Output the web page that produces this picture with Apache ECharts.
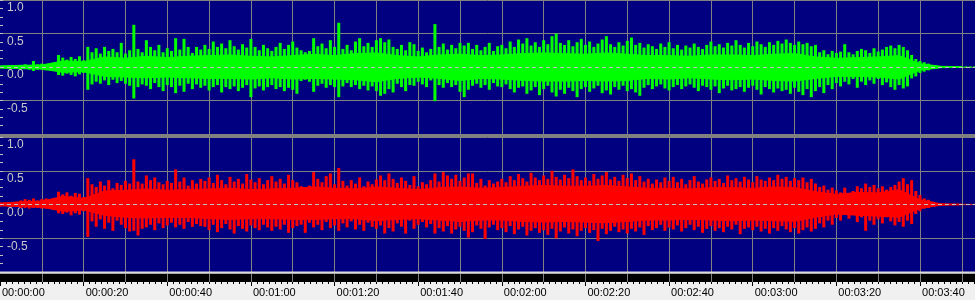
<!DOCTYPE html>
<html><head><meta charset="utf-8">
<script src="https://cdn.jsdelivr.net/npm/echarts@6/dist/echarts.min.js"></script>
<style>html,body{margin:0;padding:0;background:#f0f0f0}#c{width:975px;height:300px}</style>
</head><body><div id="c"></div>
<script>
// Peak envelope of the waveform, one value per second (t = 0 .. 233 s)
const L_MAX = [
 0.02,0.02,0.02,0.03,0.02,0.03,0.04,0.03,0.09,0.04,
 0.05,0.04,0.05,0.06,0.18,0.14,0.11,0.15,0.12,0.16,
 0.10,0.30,0.22,0.28,0.20,0.30,0.24,0.27,0.22,0.36,
 0.20,0.25,0.63,0.27,0.22,0.40,0.30,0.25,0.33,0.22,
 0.28,0.24,0.43,0.26,0.42,0.30,0.21,0.30,0.26,0.33,
 0.27,0.38,0.30,0.35,0.28,0.40,0.31,0.26,0.34,0.29,
 0.42,0.30,0.25,0.33,0.28,0.24,0.30,0.36,0.27,0.33,
 0.38,0.29,0.25,0.22,0.24,0.43,0.31,0.35,0.28,0.40,
 0.30,0.66,0.27,0.33,0.25,0.38,0.43,0.31,0.36,0.30,
 0.40,0.43,0.37,0.41,0.30,0.27,0.33,0.25,0.37,0.34,
 0.24,0.29,0.22,0.27,0.64,0.30,0.35,0.26,0.33,0.28,
 0.36,0.32,0.36,0.27,0.33,0.25,0.30,0.36,0.24,0.31,
 0.33,0.28,0.38,0.30,0.41,0.35,0.43,0.32,0.37,0.30,
 0.40,0.34,0.46,0.50,0.36,0.33,0.40,0.31,0.37,0.42,
 0.33,0.38,0.30,0.35,0.41,0.46,0.34,0.30,0.37,0.32,
 0.39,0.44,0.33,0.36,0.29,0.34,0.31,0.27,0.35,0.30,
 0.37,0.28,0.33,0.26,0.32,0.29,0.35,0.30,0.27,0.33,
 0.38,0.31,0.34,0.29,0.36,0.32,0.40,0.33,0.29,0.36,
 0.31,0.38,0.34,0.30,0.37,0.33,0.39,0.35,0.41,0.36,
 0.33,0.38,0.34,0.36,0.31,0.33,0.22,0.25,0.19,0.24,
 0.21,0.23,0.34,0.22,0.19,0.24,0.27,0.25,0.21,0.28,
 0.23,0.26,0.30,0.32,0.28,0.33,0.30,0.25,0.18,0.12,
 0.09,0.07,0.05,0.03,0.02,0.015,0.01,0.01,0.01,0.01,
 0.01,0.01,0.01,0.01
];
const L_MIN = [
 -0.02,-0.02,-0.02,-0.02,-0.03,-0.03,-0.03,-0.04,-0.06,-0.04,
 -0.04,-0.05,-0.04,-0.05,-0.12,-0.13,-0.10,-0.12,-0.14,-0.11,
 -0.09,-0.34,-0.26,-0.22,-0.25,-0.20,-0.27,-0.19,-0.24,-0.21,
 -0.25,-0.28,-0.47,-0.30,-0.26,-0.28,-0.33,-0.24,-0.30,-0.36,
 -0.27,-0.30,-0.39,-0.28,-0.37,-0.25,-0.33,-0.26,-0.31,-0.28,
 -0.35,-0.30,-0.27,-0.38,-0.30,-0.33,-0.29,-0.36,-0.31,-0.27,
 -0.45,-0.32,-0.29,-0.35,-0.30,-0.27,-0.33,-0.30,-0.36,-0.31,
 -0.34,-0.40,-0.21,-0.19,-0.22,-0.37,-0.28,-0.25,-0.31,-0.27,
 -0.30,-0.45,-0.29,-0.24,-0.30,-0.27,-0.33,-0.28,-0.35,-0.29,
 -0.36,-0.43,-0.40,-0.33,-0.38,-0.25,-0.30,-0.36,-0.27,-0.28,
 -0.22,-0.26,-0.30,-0.20,-0.51,-0.27,-0.31,-0.24,-0.30,-0.27,
 -0.37,-0.45,-0.34,-0.28,-0.25,-0.31,-0.27,-0.34,-0.24,-0.29,
 -0.30,-0.26,-0.33,-0.38,-0.31,-0.29,-0.40,-0.35,-0.30,-0.42,
 -0.33,-0.28,-0.38,-0.44,-0.34,-0.40,-0.31,-0.36,-0.45,-0.33,
 -0.30,-0.37,-0.32,-0.28,-0.39,-0.35,-0.41,-0.30,-0.34,-0.28,
 -0.36,-0.33,-0.38,-0.43,-0.31,-0.27,-0.33,-0.29,-0.26,-0.32,
 -0.35,-0.30,-0.27,-0.33,-0.29,-0.26,-0.31,-0.36,-0.28,-0.30,
 -0.34,-0.29,-0.39,-0.32,-0.28,-0.35,-0.33,-0.30,-0.37,-0.31,
 -0.28,-0.34,-0.41,-0.30,-0.33,-0.38,-0.32,-0.36,-0.34,-0.40,
 -0.31,-0.37,-0.42,-0.33,-0.45,-0.36,-0.30,-0.39,-0.27,-0.33,
 -0.24,-0.29,-0.22,-0.26,-0.18,-0.31,-0.22,-0.27,-0.20,-0.25,
 -0.18,-0.27,-0.23,-0.30,-0.34,-0.27,-0.32,-0.29,-0.17,-0.14,
 -0.09,-0.07,-0.05,-0.03,-0.02,-0.015,-0.01,-0.01,-0.01,-0.01,
 -0.01,-0.01,-0.01,-0.01
];
const R_MAX = [
 0.03,0.03,0.02,0.03,0.04,0.06,0.08,0.07,0.09,0.06,
 0.08,0.09,0.07,0.09,0.19,0.15,0.18,0.13,0.17,0.16,
 0.11,0.39,0.30,0.26,0.34,0.28,0.36,0.24,0.32,0.29,
 0.35,0.31,0.67,0.34,0.31,0.43,0.36,0.40,0.33,0.30,
 0.35,0.32,0.52,0.34,0.40,0.28,0.36,0.31,0.38,0.35,
 0.40,0.32,0.44,0.36,0.30,0.41,0.34,0.38,0.31,0.45,
 0.37,0.33,0.39,0.30,0.36,0.42,0.34,0.38,0.31,0.44,
 0.36,0.33,0.27,0.25,0.28,0.48,0.38,0.33,0.42,0.46,
 0.30,0.54,0.35,0.28,0.36,0.31,0.40,0.27,0.34,0.30,
 0.37,0.43,0.36,0.46,0.38,0.32,0.40,0.35,0.29,0.42,
 0.27,0.33,0.30,0.36,0.46,0.34,0.48,0.43,0.38,0.44,
 0.35,0.40,0.46,0.46,0.32,0.38,0.28,0.36,0.31,0.34,
 0.38,0.33,0.42,0.36,0.45,0.39,0.34,0.47,0.40,0.36,
 0.43,0.38,0.50,0.41,0.37,0.44,0.39,0.52,0.42,0.36,
 0.40,0.35,0.45,0.38,0.43,0.48,0.37,0.41,0.35,0.44,
 0.39,0.46,0.36,0.42,0.34,0.38,0.31,0.37,0.33,0.40,
 0.35,0.41,0.33,0.38,0.30,0.36,0.42,0.34,0.31,0.37,
 0.40,0.35,0.38,0.32,0.43,0.36,0.39,0.34,0.41,0.37,
 0.33,0.42,0.37,0.35,0.40,0.36,0.44,0.38,0.41,0.35,
 0.39,0.36,0.40,0.33,0.38,0.31,0.26,0.28,0.22,0.25,
 0.21,0.18,0.25,0.14,0.20,0.27,0.24,0.31,0.26,0.29,
 0.24,0.27,0.22,0.26,0.29,0.34,0.39,0.30,0.36,0.20,
 0.14,0.09,0.07,0.04,0.02,0.015,0.01,0.01,0.01,0.01,
 0.01,0.01,0.01,0.01
];
const R_MIN = [
 -0.03,-0.02,-0.03,-0.03,-0.03,-0.05,-0.05,-0.06,-0.05,-0.05,
 -0.06,-0.06,-0.05,-0.06,-0.13,-0.14,-0.12,-0.16,-0.13,-0.15,
 -0.10,-0.48,-0.25,-0.33,-0.22,-0.36,-0.27,-0.39,-0.24,-0.30,
 -0.35,-0.40,-0.39,-0.46,-0.36,-0.34,-0.30,-0.38,-0.28,-0.35,
 -0.31,-0.27,-0.34,-0.30,-0.36,-0.26,-0.33,-0.29,-0.32,-0.33,
 -0.38,-0.30,-0.41,-0.35,-0.29,-0.37,-0.43,-0.32,-0.36,-0.40,
 -0.31,-0.35,-0.38,-0.30,-0.34,-0.39,-0.33,-0.37,-0.30,-0.42,
 -0.35,-0.32,-0.30,-0.42,-0.27,-0.34,-0.30,-0.38,-0.26,-0.35,
 -0.31,-0.39,-0.28,-0.34,-0.25,-0.37,-0.30,-0.39,-0.27,-0.33,
 -0.36,-0.31,-0.43,-0.35,-0.40,-0.28,-0.33,-0.43,-0.24,-0.36,
 -0.30,-0.26,-0.34,-0.29,-0.43,-0.35,-0.40,-0.32,-0.43,-0.37,
 -0.33,-0.39,-0.49,-0.41,-0.31,-0.36,-0.51,-0.34,-0.30,-0.38,
 -0.35,-0.41,-0.32,-0.44,-0.37,-0.33,-0.46,-0.39,-0.35,-0.42,
 -0.38,-0.45,-0.36,-0.50,-0.40,-0.34,-0.43,-0.37,-0.47,-0.39,
 -0.35,-0.42,-0.38,-0.54,-0.36,-0.44,-0.39,-0.33,-0.41,-0.37,
 -0.43,-0.36,-0.40,-0.34,-0.45,-0.32,-0.38,-0.35,-0.30,-0.39,
 -0.34,-0.37,-0.31,-0.40,-0.35,-0.30,-0.38,-0.33,-0.42,-0.36,
 -0.32,-0.39,-0.35,-0.41,-0.33,-0.37,-0.30,-0.44,-0.36,-0.34,
 -0.38,-0.33,-0.40,-0.36,-0.43,-0.35,-0.39,-0.32,-0.37,-0.41,
 -0.35,-0.43,-0.38,-0.34,-0.40,-0.36,-0.28,-0.34,-0.24,-0.30,
 -0.20,-0.24,-0.15,-0.21,-0.13,-0.26,-0.19,-0.39,-0.24,-0.30,
 -0.22,-0.28,-0.19,-0.25,-0.31,-0.26,-0.33,-0.24,-0.29,-0.14,
 -0.10,-0.06,-0.05,-0.03,-0.02,-0.015,-0.01,-0.01,-0.01,-0.01,
 -0.01,-0.01,-0.01,-0.01
];
// Dense "body" of the waveform, one value every 5 s (t = 0 .. 230 s)
const BODY_STEP = 5;
const L_BODY_HI = [
 0.015,0.025,0.03,0.09,0.08,0.15,0.13,0.16,0.14,0.16,
 0.17,0.18,0.16,0.15,0.17,0.19,0.17,0.20,0.21,0.17,
 0.15,0.18,0.19,0.17,0.18,0.20,0.21,0.20,0.19,0.21,
 0.19,0.17,0.17,0.16,0.18,0.18,0.17,0.19,0.20,0.15,
 0.13,0.14,0.15,0.17,0.05,0.01,0.005
];
const L_BODY_LO = [
 -0.015,-0.025,-0.03,-0.08,-0.07,-0.14,-0.15,-0.16,-0.15,-0.16,
 -0.17,-0.17,-0.18,-0.16,-0.18,-0.17,-0.18,-0.19,-0.22,-0.17,
 -0.15,-0.17,-0.20,-0.17,-0.18,-0.20,-0.21,-0.21,-0.20,-0.21,
 -0.20,-0.17,-0.18,-0.16,-0.18,-0.19,-0.18,-0.20,-0.21,-0.17,
 -0.14,-0.14,-0.15,-0.18,-0.05,-0.01,-0.005
];
const R_BODY_HI = [
 0.02,0.04,0.05,0.12,0.09,0.20,0.21,0.23,0.21,0.22,
 0.23,0.24,0.22,0.23,0.24,0.26,0.24,0.23,0.26,0.24,
 0.22,0.25,0.26,0.24,0.25,0.27,0.28,0.27,0.27,0.28,
 0.26,0.24,0.24,0.23,0.25,0.25,0.24,0.26,0.25,0.19,
 0.15,0.18,0.17,0.22,0.07,0.01,0.005
];
const R_BODY_LO = [
 -0.02,-0.03,-0.04,-0.10,-0.08,-0.16,-0.19,-0.20,-0.19,-0.19,
 -0.21,-0.22,-0.21,-0.21,-0.22,-0.22,-0.21,-0.21,-0.24,-0.22,
 -0.21,-0.23,-0.25,-0.23,-0.23,-0.25,-0.26,-0.25,-0.26,-0.27,
 -0.25,-0.23,-0.23,-0.22,-0.23,-0.24,-0.23,-0.24,-0.25,-0.19,
 -0.14,-0.16,-0.17,-0.19,-0.06,-0.01,-0.005
];
const Y_RANGE = [-1, 1];
const Y_STEP = 0.5;
const GRID_STEP = 10;          // seconds between vertical grid lines
const LABEL_STEP = 20;         // seconds between time labels
const RULER_MINOR = 20 / 14;   // seconds between small ruler ticks
const DURATION = 233.15;       // visible seconds across the window

const W = 975;

function pairs(arr, step) { return arr.map((v, i) => [i * step, v]); }
function fmtTime(v) {
  const s = Math.round(v);
  const h = Math.floor(s / 3600), m = Math.floor(s / 60) % 60, ss = s % 60;
  return [h, m, ss].map(n => String(n).padStart(2, '0')).join(':');
}

const GRIDLINE = '#808080';
const NAVY = '#000080';

function gridX(idx) {
  return {
    gridIndex: idx, type: 'value', min: 0, max: DURATION, interval: GRID_STEP,
    axisLine: {show: false}, axisTick: {show: false}, axisLabel: {show: false},
    splitLine: {show: true, showMinLine: false, showMaxLine: false, lineStyle: {color: GRIDLINE, width: 1}}
  };
}
function ampY(idx) {
  return {
    gridIndex: idx, type: 'value', min: Y_RANGE[0], max: Y_RANGE[1], interval: Y_STEP,
    axisLine: {show: false},
    axisTick: {show: true, inside: true, length: 3, lineStyle: {color: '#c0c0c0'}},
    minorTick: {show: true, splitNumber: 4, length: 3, lineStyle: {color: '#c0c0c0'}},
    axisLabel: {
      inside: true, margin: 7, verticalAlign: 'top', padding: [2, 0, 0, 0],
      color: '#c8c8c8', fontSize: 12, fontFamily: 'Liberation Sans',
      formatter: v => (v <= Y_RANGE[0] ? '' : v.toFixed(1))
    },
    splitLine: {show: true, lineStyle: {color: GRIDLINE, width: 1}}
  };
}
function peaks(xi, data, color, stack) {
  return {
    type: 'bar', xAxisIndex: xi, yAxisIndex: xi, data: pairs(data, 1),
    stack: stack, barWidth: 3, silent: true, z: 2,
    itemStyle: {color: color}
  };
}
function body(xi, data, color, withZero) {
  const s = {
    type: 'line', xAxisIndex: xi, yAxisIndex: xi, data: pairs(data, BODY_STEP),
    symbol: 'none', silent: true, z: 3,
    lineStyle: {color: color, width: 1},
    areaStyle: {color: color, opacity: 1}
  };
  if (withZero) {
    s.markLine = {
      silent: true, symbol: 'none', label: {show: false}, animation: false,
      lineStyle: {color: '#c0c0c0', type: [4, 3], width: 1},
      data: [{yAxis: 0}]
    };
  }
  return s;
}

const chart = echarts.init(document.getElementById('c'));
chart.setOption({
  animation: false,
  backgroundColor: '#f0f0f0',
  textStyle: {fontFamily: 'Liberation Sans'},
  grid: [
    {left: 0, right: 0, top: 0, height: 134, show: true, backgroundColor: NAVY, borderWidth: 0, outerBoundsMode: 'none', containLabel: false},
    {left: 0, right: 0, top: 137, height: 135, show: true, backgroundColor: NAVY, borderWidth: 0, outerBoundsMode: 'none', containLabel: false},
    {left: 0, right: 0, top: 273.5, height: 8.5, show: true, backgroundColor: '#000000', borderWidth: 0, outerBoundsMode: 'none', containLabel: false}
  ],
  xAxis: [
    gridX(0),
    gridX(1),
    gridX(2),
    {
      gridIndex: 2, type: 'value', min: 0, max: DURATION, interval: LABEL_STEP, position: 'bottom',
      axisLine: {show: false},
      axisTick: {show: true, length: 4, lineStyle: {color: '#000'}},
      splitLine: {show: false},
      axisLabel: {
        show: true, showMaxLabel: false, align: 'left', margin: 5, padding: [0, 0, 0, 2],
        color: '#000', fontSize: 11, fontFamily: 'Liberation Sans',
        formatter: v => (Math.abs(v / LABEL_STEP - Math.round(v / LABEL_STEP)) < 1e-6 ? fmtTime(v) : '')
      }
    },
    {
      gridIndex: 2, type: 'value', min: 0, max: DURATION, interval: RULER_MINOR, position: 'bottom',
      axisLine: {show: false}, axisLabel: {show: false}, splitLine: {show: false},
      axisTick: {show: true, length: 2, lineStyle: {color: '#000'}}
    }
  ],
  yAxis: [
    ampY(0), ampY(1),
    {gridIndex: 2, type: 'value', min: 0, max: 1, show: false}
  ],
  series: [
    peaks(0, L_MAX, '#00ff00', 'L'),
    peaks(0, L_MIN, '#00ff00', 'L'),
    body(0, L_BODY_HI, '#00ff00', false),
    body(0, L_BODY_LO, '#00ff00', true),
    peaks(1, R_MAX, '#ff0000', 'R'),
    peaks(1, R_MIN, '#ff0000', 'R'),
    body(1, R_BODY_HI, '#ff0000', false),
    body(1, R_BODY_LO, '#ff0000', true)
  ],
  graphic: [
    {type: 'rect', z: 100, silent: true, shape: {x: 0, y: 134, width: W, height: 3}, style: {fill: '#808080'}},
    {type: 'rect', z: 100, silent: true, shape: {x: 0, y: 271.5, width: W, height: 2}, style: {fill: '#dcdcdc'}}
  ]
});
</script>
</body></html>
